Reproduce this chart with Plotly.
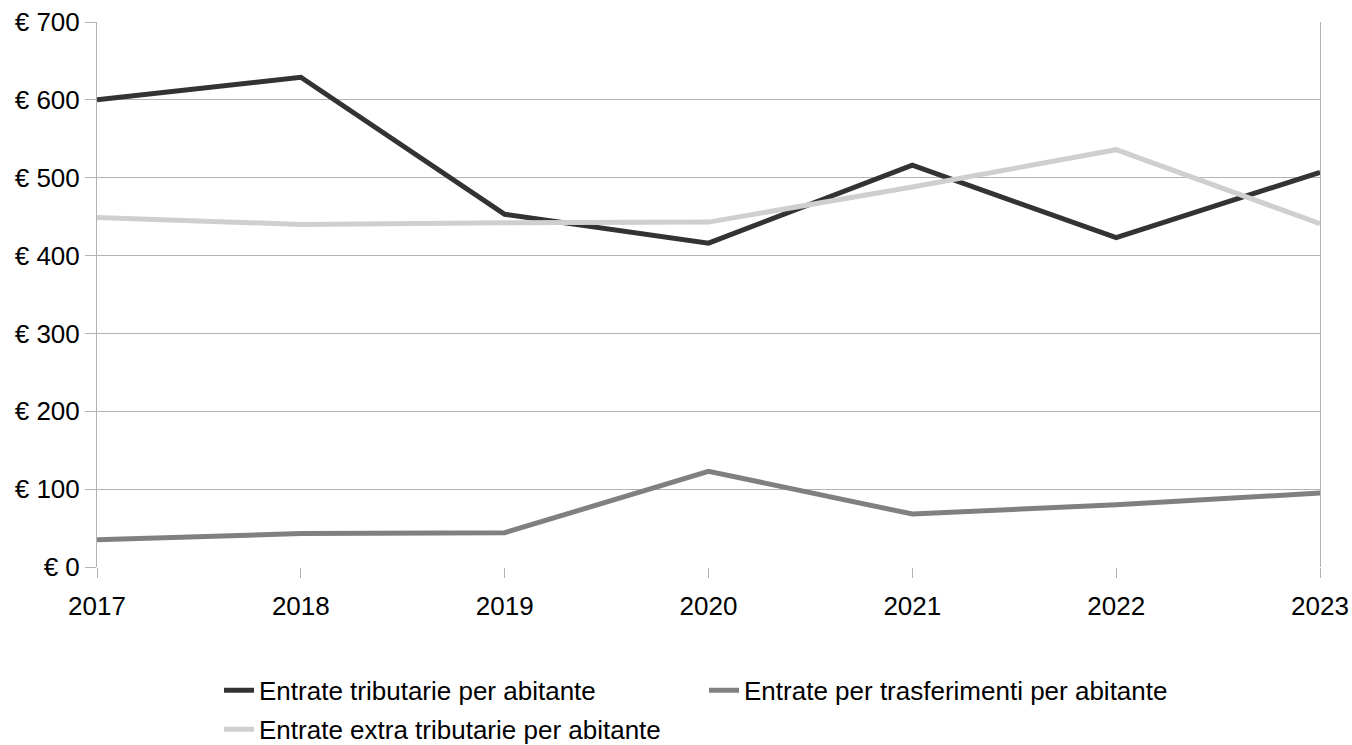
import plotly.graph_objects as go

years = [2017, 2018, 2019, 2020, 2021, 2022, 2023]
tributarie = [600, 629, 453, 416, 516, 423, 507]
trasferimenti = [35, 43, 44, 123, 68, 80, 95]
extra_tributarie = [449, 440, 442, 443, 488, 536, 441]

y_ticks = [0, 100, 200, 300, 400, 500, 600, 700]
y_labels = ["€ " + str(v) for v in y_ticks]
x_labels = [str(y) for y in years]

fig = go.Figure()
fig.add_trace(go.Scatter(x=years, y=tributarie, mode="lines",
                         name="Entrate tributarie per abitante",
                         line=dict(color="#333333", width=5), legend="legend"))
fig.add_trace(go.Scatter(x=years, y=trasferimenti, mode="lines",
                         name="Entrate per trasferimenti per abitante",
                         line=dict(color="#808080", width=5), legend="legend"))
fig.add_trace(go.Scatter(x=years, y=extra_tributarie, mode="lines",
                         name="Entrate extra tributarie per abitante",
                         line=dict(color="#cfcfcf", width=5), legend="legend2"))

grid = "#b3b3b3"
fig.update_layout(
    width=1352, height=745,
    margin=dict(l=97, r=32, t=22, b=178),
    paper_bgcolor="white", plot_bgcolor="white",
    font=dict(family="Liberation Sans, Arial, sans-serif", size=26, color="black"),
    xaxis=dict(range=[2017, 2023], tickvals=years, ticktext=x_labels,
               showgrid=False, zeroline=False, showline=False, automargin=False,
               ticks="outside", ticklen=10, tickcolor=grid, tickwidth=1,
               ticklabelstandoff=6),
    yaxis=dict(range=[0, 700], tickvals=y_ticks, ticktext=y_labels,
               showgrid=True, gridcolor=grid, gridwidth=1, zeroline=False,
               showline=True, linecolor=grid, linewidth=1, mirror=True,
               automargin=False,
               ticks="outside", ticklen=11, tickcolor=grid, tickwidth=1),
    legend=dict(orientation="h", xref="container", yref="container",
                x=0.162, y=0.0735, xanchor="left", yanchor="middle",
                entrywidth=440, font=dict(size=26), bgcolor="rgba(0,0,0,0)"),
    legend2=dict(orientation="h", xref="container", yref="container",
                 x=0.162, y=0.021, xanchor="left", yanchor="middle",
                 font=dict(size=26), bgcolor="rgba(0,0,0,0)"),
    showlegend=True,
)

fig.write_html("out.html")
